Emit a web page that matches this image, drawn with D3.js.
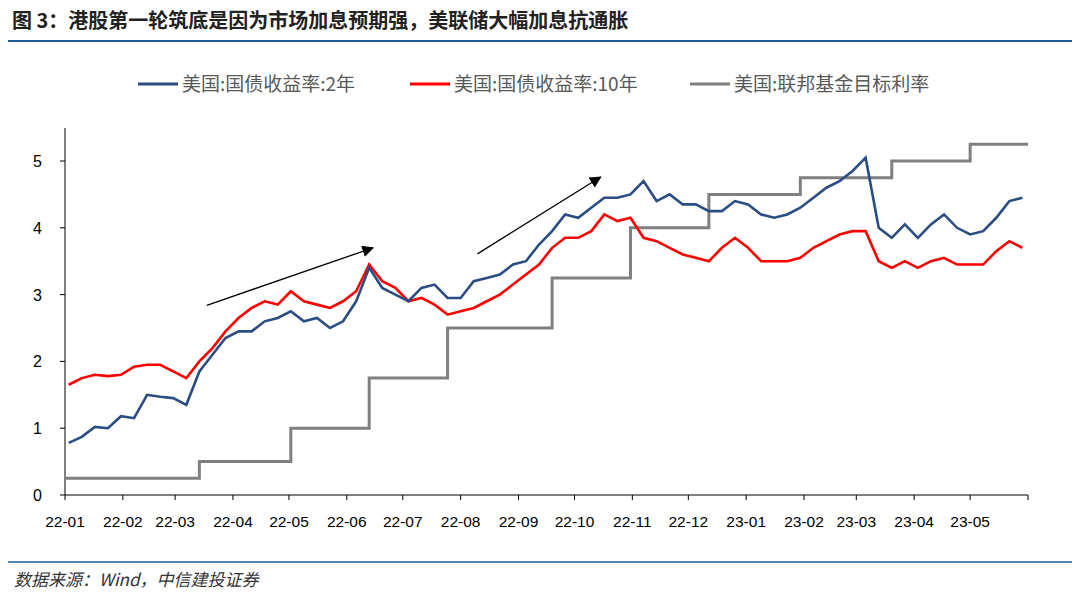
<!DOCTYPE html>
<html><head><meta charset="utf-8">
<script src="https://cdn.jsdelivr.net/npm/d3@7"></script>
<style>body{margin:0;background:#fff;font-family:"Noto Sans CJK SC","Noto Sans",sans-serif;}</style>
</head><body>
<script>
// weekly observations starting 2022-01-03
var startWeek = "2022-01-03";
var y2 = [0.78,0.87,1.02,1.00,1.18, 1.15,1.50,1.47,1.45, 1.35,1.85,2.10,2.35,
  2.45,2.45,2.60,2.65, 2.75,2.60,2.65,2.50,2.60, 2.90,3.40,3.10,3.00,
  2.90,3.10,3.15,2.95, 2.95,3.20,3.25,3.30,3.45, 3.50,3.75,3.95,4.20,
  4.15,4.30,4.45,4.45, 4.50,4.70,4.40,4.50,4.35, 4.35,4.25,4.25,4.40,
  4.35,4.20,4.15,4.20,4.30, 4.45,4.60,4.70,4.85, 5.05,4.00,3.85,4.05,
  3.85,4.05,4.20,4.00, 3.90,3.95,4.15,4.40,4.45];
var y10 = [1.65,1.75,1.80,1.78,1.80, 1.92,1.95,1.95,1.85, 1.75,2.00,2.20,2.45,
  2.65,2.80,2.90,2.85, 3.05,2.90,2.85,2.80,2.90, 3.05,3.45,3.20,3.10,
  2.90,2.95,2.85,2.70, 2.75,2.80,2.90,3.00,3.15, 3.30,3.45,3.70,3.85,
  3.85,3.95,4.20,4.10, 4.15,3.85,3.80,3.70,3.60, 3.55,3.50,3.70,3.85,
  3.70,3.50,3.50,3.50,3.55, 3.70,3.80,3.90,3.95, 3.95,3.50,3.40,3.50,
  3.40,3.50,3.55,3.45, 3.45,3.45,3.65,3.80,3.70];
var fedDates = ["2022-01-01","2022-03-14","2022-05-02","2022-06-13","2022-07-25","2022-09-19","2022-10-31","2022-12-12","2023-01-30","2023-03-20","2023-05-01","2023-06-01"];
var fedRate = [0.25,0.5,1.0,1.75,2.5,3.25,4.0,4.5,4.75,5.0,5.25,5.25];
var monthLabels = ["22-01","22-02","22-03","22-04","22-05","22-06","22-07","22-08","22-09","22-10","22-11","22-12","23-01","23-02","23-03","23-04","23-05"];
var yTicks = [0,1,2,3,4,5];
var seriesNames = ["美国:国债收益率:2年","美国:国债收益率:10年","美国:联邦基金目标利率"];
var seriesColors = ["#2a4d85","#ff0000","#808080"];

var parse = d3.timeParse("%Y-%m-%d");
var t0 = parse(startWeek);
var dates = y2.map(function(d, i) { return d3.timeDay.offset(t0, i * 7); });

var W = 1080, H = 598;
var svg = d3.select("body").append("svg").attr("width", W).attr("height", H);

var x = d3.scaleTime().domain([parse("2022-01-01"), parse("2023-06-01")]).range([65, 1028]);
var y = d3.scaleLinear().domain([0, 5]).range([495, 161]);

// title & frame lines
svg.append("text").attr("x", 12).attr("y", 28).attr("font-size", 20).attr("font-weight", "bold")
  .attr("fill", "#222").text("图 3：港股第一轮筑底是因为市场加息预期强，美联储大幅加息抗通胀");
svg.append("line").attr("x1", 8).attr("x2", 1072).attr("y1", 41).attr("y2", 41).attr("stroke", "#1f5c99").attr("stroke-width", 2);
svg.append("line").attr("x1", 8).attr("x2", 1072).attr("y1", 562).attr("y2", 562).attr("stroke", "#1f5c99").attr("stroke-width", 1.5);
svg.append("text").attr("x", 14).attr("y", 586).attr("font-size", 17).attr("font-style", "italic")
  .attr("fill", "#333").text("数据来源：Wind，中信建投证券");

// axes
svg.append("line").attr("x1", 65).attr("x2", 65).attr("y1", 128).attr("y2", 495).attr("stroke", "#000");
svg.append("line").attr("x1", 65).attr("x2", 1028).attr("y1", 495).attr("y2", 495).attr("stroke", "#000");
yTicks.forEach(function(t) {
  svg.append("line").attr("x1", 60).attr("x2", 65).attr("y1", y(t)).attr("y2", y(t)).attr("stroke", "#000");
  svg.append("text").attr("x", 42).attr("y", y(t) + 6).attr("text-anchor", "end").attr("font-size", 16)
    .attr("font-family", "Liberation Sans, Arial").text(t);
});
monthLabels.concat(["23-06"]).forEach(function(m, i) {
  var d = d3.timeMonth.offset(parse("2022-01-01"), i), px = x(d);
  svg.append("line").attr("x1", px).attr("x2", px).attr("y1", 495).attr("y2", 500).attr("stroke", "#000");
  if (i < monthLabels.length)
    svg.append("text").attr("x", px).attr("y", 527).attr("text-anchor", "middle").attr("font-size", 15.5)
      .attr("font-family", "Liberation Sans, Arial").text(m);
});

// series
var line = d3.line().x(function(d) { return x(d[0]); }).y(function(d) { return y(d[1]); });
var fedPts = fedDates.map(function(d, i) { return [parse(d), fedRate[i]]; });
svg.append("path").attr("d", d3.line().curve(d3.curveStepAfter).x(function(d) { return x(d[0]); }).y(function(d) { return y(d[1]); })(fedPts))
  .attr("fill", "none").attr("stroke", seriesColors[2]).attr("stroke-width", 3);
svg.append("path").attr("d", line(dates.map(function(d, i) { return [d, y10[i]]; })))
  .attr("fill", "none").attr("stroke", seriesColors[1]).attr("stroke-width", 2.6);
svg.append("path").attr("d", line(dates.map(function(d, i) { return [d, y2[i]]; })))
  .attr("fill", "none").attr("stroke", seriesColors[0]).attr("stroke-width", 2.6);

// arrows
svg.append("defs").append("marker").attr("id", "ah").attr("viewBox", "0 0 10 10").attr("refX", 9).attr("refY", 5)
  .attr("markerWidth", 9).attr("markerHeight", 9).attr("orient", "auto")
  .append("path").attr("d", "M0,0L10,5L0,10Z").attr("fill", "#000");
[[["2022-03-18", 2.84], ["2022-06-15", 3.7]], [["2022-08-10", 3.61], ["2022-10-15", 4.76]]].forEach(function(a) {
  svg.append("line").attr("x1", x(parse(a[0][0]))).attr("y1", y(a[0][1]))
    .attr("x2", x(parse(a[1][0]))).attr("y2", y(a[1][1]))
    .attr("stroke", "#000").attr("stroke-width", 1.3).attr("marker-end", "url(#ah)");
});

// legend
var lx = [138, 410, 690];
seriesNames.forEach(function(n, i) {
  svg.append("line").attr("x1", lx[i]).attr("x2", lx[i] + 40).attr("y1", 84).attr("y2", 84)
    .attr("stroke", seriesColors[i]).attr("stroke-width", 3);
  svg.append("text").attr("x", lx[i] + 44).attr("y", 91).attr("font-size", 19).attr("fill", "#595959").text(n);
});
</script>
</body></html>
